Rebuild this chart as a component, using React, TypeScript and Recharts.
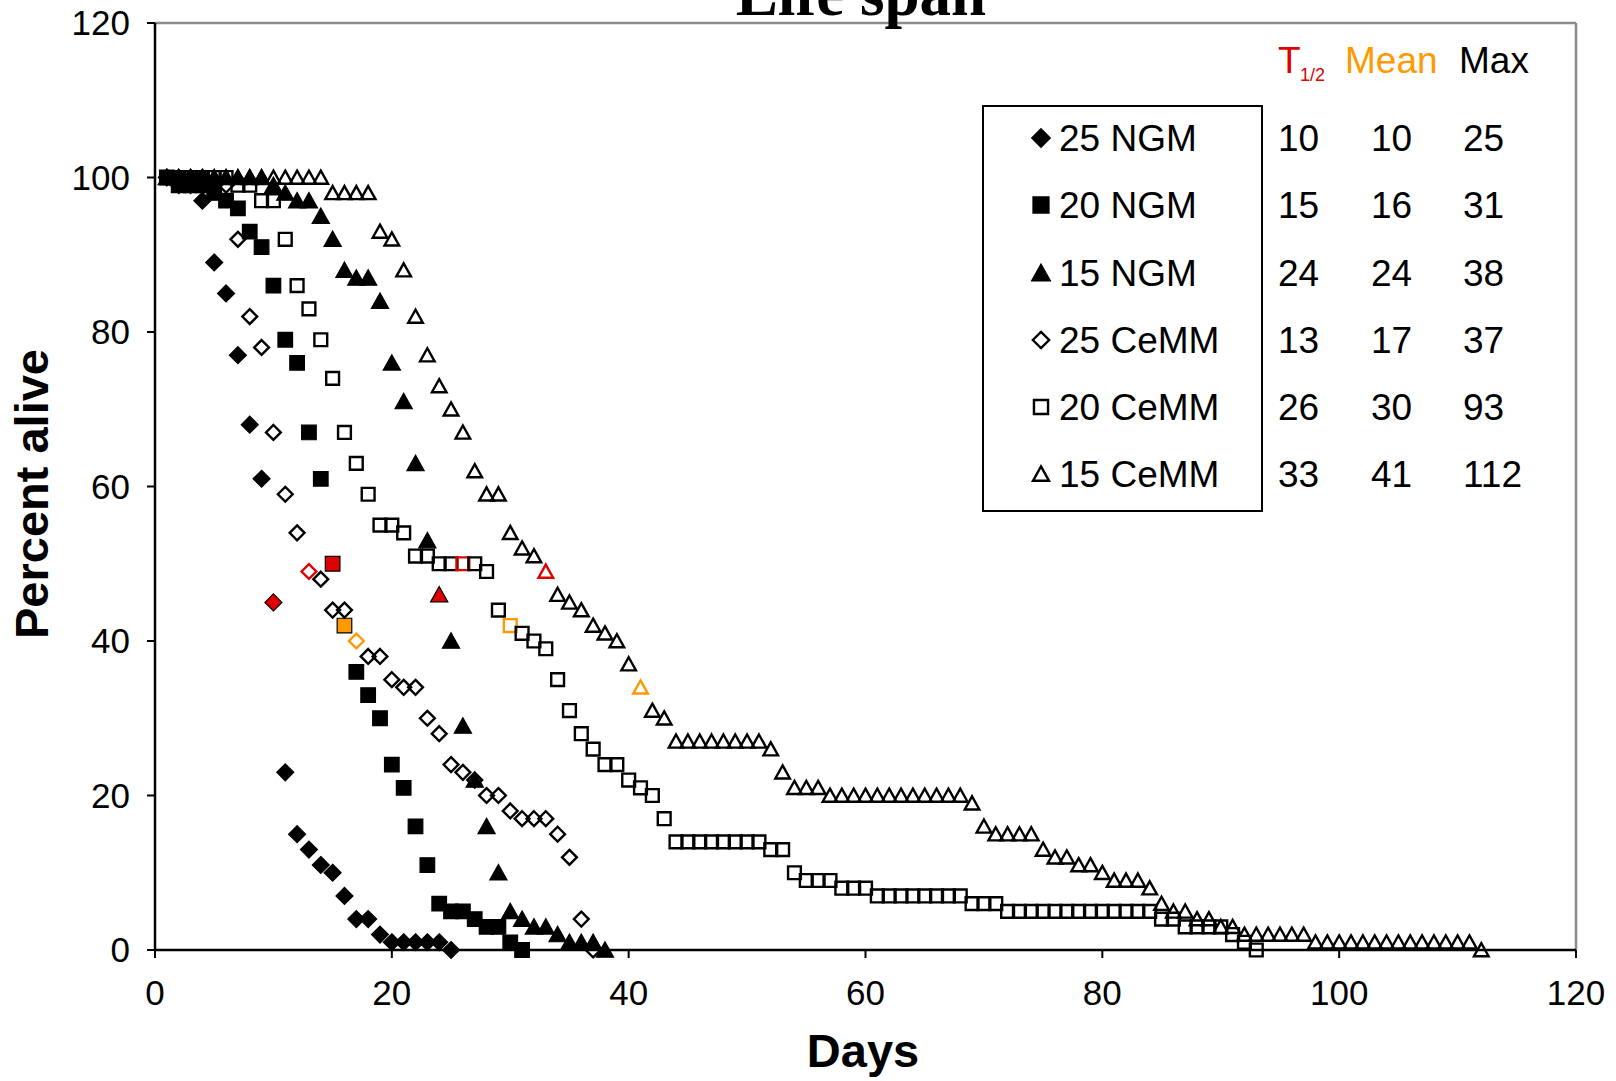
import { ScatterChart, Scatter, XAxis, YAxis, ReferenceLine } from "recharts";

const seriesNames = ["25 NGM", "20 NGM", "15 NGM", "25 CeMM", "20 CeMM", "15 CeMM"];
const halfLife = [10, 15, 24, 13, 26, 33];
const meanLife = [10, 16, 24, 17, 30, 41];
const maxLife = [25, 31, 38, 37, 93, 112];
const axisTicks = [0, 20, 40, 60, 80, 100, 120];

// percent alive per day, first entry is day 1
const ngm25 = [100, 99, 99, 97, 89, 85, 77, 68, 61, 45, 23, 15, 13, 11, 10, 7, 4, 4, 2, 1, 1, 1, 1, 1, 0];
const ngm20 = [100, 99, 99, 99, 98, 97, 96, 93, 91, 86, 79, 76, 67, 61, 50, 42, 36, 33, 30, 24, 21, 16, 11, 6, 5, 5, 4, 3, 3, 1, 0];
const ngm15 = [100, 100, 100, 100, 100, 100, 100, 100, 100, 99, 98, 97, 97, 95, 92, 88, 87, 87, 84, 76, 71, 63, 53, 46, 40, 29, 22, 16, 10, 5, 4, 3, 3, 2, 1, 1, 1, 0];
const cemm25 = [100, 100, 100, 100, 99, 99, 92, 82, 78, 67, 59, 54, 49, 48, 44, 44, 40, 38, 38, 35, 34, 34, 30, 28, 24, 23, 22, 20, 20, 18, 17, 17, 17, 15, 12, 4, 0];
const cemm20 = [
  100, 100, 100, 100, 100, 100, 99, 99, 97, 97, 92, 86, 83, 79, 74, 67, 63, 59, 55, 55,
  54, 51, 51, 50, 50, 50, 50, 49, 44, 42, 41, 40, 39, 35, 31, 28, 26, 24, 24, 22,
  21, 20, 17, 14, 14, 14, 14, 14, 14, 14, 14, 13, 13, 10, 9, 9, 9, 8, 8, 8,
  7, 7, 7, 7, 7, 7, 7, 7, 6, 6, 6, 5, 5, 5, 5, 5, 5, 5, 5, 5,
  5, 5, 5, 5, 4, 4, 3, 3, 3, 3, 2, 1, 0,
];
const cemm15 = [
  100, 100, 100, 100, 100, 100, 100, 100, 100, 100, 100, 100, 100, 100, 98, 98, 98, 98, 93, 92,
  88, 82, 77, 73, 70, 67, 62, 59, 59, 54, 52, 51, 49, 46, 45, 44, 42, 41, 40, 37,
  34, 31, 30, 27, 27, 27, 27, 27, 27, 27, 27, 26, 23, 21, 21, 21, 20, 20, 20, 20,
  20, 20, 20, 20, 20, 20, 20, 20, 19, 16, 15, 15, 15, 15, 13, 12, 12, 11, 11, 10,
  9, 9, 9, 8, 6, 5, 5, 4, 4, 3, 3, 2, 2, 2, 2, 2, 2, 1, 1, 1,
  1, 1, 1, 1, 1, 1, 1, 1, 1, 1, 1, 0,
];

const seriesValues = [ngm25, ngm20, ngm15, cemm25, cemm20, cemm15];
const markerKinds = ["diamond", "square", "triangle", "diamond", "square", "triangle"];
const markerFilled = [true, true, true, false, false, false];

const RED = "#e00000";
const ORANGE = "#ff9900";
const SANS = "'Liberation Sans', Arial, sans-serif";

const pointColor = (s: number, day: number) => {
  if (day === halfLife[s]) return RED;
  if (day === meanLife[s]) return ORANGE;
  return undefined;
};

const Marker = ({ kind, filled, cx, cy, color, scale = 1 }: any) => {
  let fill = "none";
  let stroke = color || "#000";
  let sw = 2.4;
  if (filled) {
    fill = color || "#000";
    stroke = "#000";
    sw = 1.2;
  }
  let d = "";
  if (kind === "diamond") {
    const r = (filled ? 8.5 : 7.4) * scale;
    d = `M${cx},${cy - r}L${cx + r},${cy}L${cx},${cy + r}L${cx - r},${cy}Z`;
  } else if (kind === "square") {
    const h = (filled ? 7.3 : 6.4) * scale;
    d = `M${cx - h},${cy - h}H${cx + h}V${cy + h}H${cx - h}Z`;
  } else {
    const w = (filled ? 8.6 : 7.3) * scale;
    const t = (filled ? 8.2 : 6.9) * scale;
    const b = (filled ? 7.2 : 6.2) * scale;
    d = `M${cx},${cy - t}L${cx + w},${cy + b}L${cx - w},${cy + b}Z`;
  }
  return <path d={d} fill={fill} stroke={stroke} strokeWidth={sw} strokeLinejoin="miter" />;
};

const rowY = [138, 205, 273, 340, 407, 474];
const colX = [1278, 1371, 1463];

export default function App() {
  return (
    <div style={{ position: "absolute", left: 0, top: 0, width: 1616, height: 1081, background: "#fff" }}>
      <ScatterChart width={1616} height={1081} margin={{ top: 23, right: 40, bottom: 0, left: 0 }}>
        <XAxis
          type="number"
          dataKey="x"
          domain={[0, 120]}
          ticks={axisTicks}
          height={131}
          stroke="#000"
          axisLine={{ stroke: "#000", strokeWidth: 2.5 }}
          tickLine={{ stroke: "#000", strokeWidth: 2 }}
          tickSize={8}
          tickMargin={22}
          tick={{ fontSize: 35, fill: "#000", fontFamily: SANS }}
        />
        <YAxis
          type="number"
          dataKey="y"
          domain={[0, 120]}
          ticks={axisTicks}
          width={155}
          stroke="#000"
          axisLine={{ stroke: "#000", strokeWidth: 2.5 }}
          tickLine={{ stroke: "#000", strokeWidth: 2 }}
          tickSize={8}
          tickMargin={17}
          tick={{ fontSize: 35, fill: "#000", fontFamily: SANS }}
        />
        <ReferenceLine y={120} stroke="#8c8c8c" strokeWidth={2.5} />
        <ReferenceLine x={120} stroke="#8c8c8c" strokeWidth={2.5} />
        {seriesValues.map((vals, s) => (
          <Scatter
            key={seriesNames[s]}
            name={seriesNames[s]}
            data={vals.map((v, i) => ({ x: i + 1, y: v }))}
            isAnimationActive={false}
            shape={(p: any) => (
              <Marker
                kind={markerKinds[s]}
                filled={markerFilled[s]}
                cx={p.cx}
                cy={p.cy}
                color={pointColor(s, p.payload.x)}
              />
            )}
          />
        ))}
      </ScatterChart>
      <svg
        width={1616}
        height={1081}
        style={{ position: "absolute", left: 0, top: 0, pointerEvents: "none" }}
      >
        <text x={861} y={15} textAnchor="middle" fontFamily="'Liberation Serif', 'Times New Roman', serif" fontWeight="bold" fontSize={63}>
          Life span
        </text>
        <text x={863} y={1067} textAnchor="middle" fontFamily={SANS} fontWeight="bold" fontSize={47}>
          Days
        </text>
        <text
          x={0}
          y={0}
          transform="translate(48,494) rotate(-90)"
          textAnchor="middle"
          fontFamily={SANS}
          fontWeight="bold"
          fontSize={47}
        >
          Percent alive
        </text>
        <rect x={983} y={106} width={279} height={405} fill="#fff" stroke="#000" strokeWidth={2} />
        {seriesNames.map((n, s) => (
          <g key={n}>
            <Marker kind={markerKinds[s]} filled={markerFilled[s]} cx={1041} cy={rowY[s]} scale={1.1} />
            <text x={1059} y={rowY[s] + 13} fontFamily={SANS} fontSize={37}>
              {n}
            </text>
            <text x={colX[0]} y={rowY[s] + 13} fontFamily={SANS} fontSize={37}>
              {halfLife[s]}
            </text>
            <text x={colX[1]} y={rowY[s] + 13} fontFamily={SANS} fontSize={37}>
              {meanLife[s]}
            </text>
            <text x={colX[2]} y={rowY[s] + 13} fontFamily={SANS} fontSize={37}>
              {maxLife[s]}
            </text>
          </g>
        ))}
        <text x={1278} y={73} fontFamily={SANS} fontSize={37} fill={RED}>
          T
        </text>
        <text x={1300} y={81} fontFamily={SANS} fontSize={18} fill={RED}>
          1/2
        </text>
        <text x={1345} y={73} fontFamily={SANS} fontSize={37} fill={ORANGE}>
          Mean
        </text>
        <text x={1459} y={73} fontFamily={SANS} fontSize={37} fill="#000">
          Max
        </text>
      </svg>
    </div>
  );
}
